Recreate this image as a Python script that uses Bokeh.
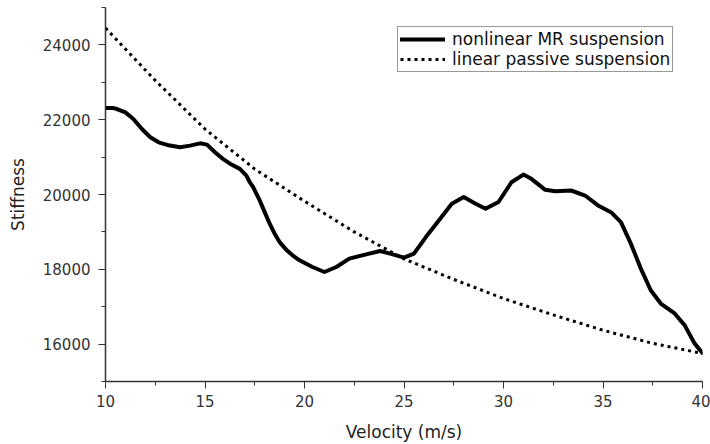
from bokeh.plotting import figure
from bokeh.models import SingleIntervalTicker, Range1d, Legend, LegendItem
from bokeh.embed import file_html
from bokeh.resources import INLINE

# nonlinear MR suspension (solid)
mr_velocity = [10, 10.4, 10.58, 11.0, 11.4, 11.83, 12.25, 12.67, 13.1, 13.75, 14.25, 14.75, 15.1,
               15.5, 15.9, 16.33, 16.75, 17.08, 17.25, 17.42, 17.75, 18.0, 18.25, 18.5, 18.75,
               19.08, 19.4, 19.75, 20.4, 21, 21.6, 22.25, 23.1, 23.8, 24.3, 25,
               25.5, 26.1, 26.75, 27.4, 28, 28.6, 29.1, 29.75, 30.4, 31, 31.4, 32.1,
               32.6, 33.4, 34.1, 34.75, 35.4, 35.9, 36.4, 36.9, 37.4, 37.9, 38.6, 39.1,
               39.6, 40]
mr_stiffness = [22310, 22310, 22285, 22195, 22020, 21752, 21530, 21395, 21325, 21262, 21307, 21368, 21333,
                21128, 20952, 20800, 20685, 20507, 20328, 20195, 19840, 19528, 19219, 18952, 18728,
                18525, 18373, 18240, 18062, 17928, 18062, 18285, 18400, 18488, 18418, 18312,
                18418, 18862, 19307, 19752, 19930, 19752, 19619, 19800, 20328, 20533, 20419, 20125,
                20088, 20107, 19973, 19707, 19528, 19261, 18685, 18019, 17440, 17085, 16819, 16507,
                16019, 15760]

# linear passive suspension (dotted)
lin_velocity = [10, 12.5, 15, 17.5, 20, 22.5, 25, 27.5, 30, 32.5, 35, 37.5, 40]
lin_stiffness = [24450, 23050, 21750, 20680, 19820, 19000, 18280, 17730, 17220, 16780, 16370, 16020, 15750]

x_label = "Velocity (m/s)"
y_label = "Stiffness"
series_names = ["nonlinear MR suspension", "linear passive suspension"]

FONT = "DejaVu Sans"

p = figure(width=710, height=444, output_backend="svg", toolbar_location=None,
           x_range=Range1d(10, 40), y_range=Range1d(15000, 25000),
           min_border_left=105, min_border_right=8, min_border_top=7, min_border_bottom=61)
p.outline_line_color = None
p.xgrid.visible = False
p.ygrid.visible = False
p.background_fill_color = "white"
p.border_fill_color = "white"

r1 = p.line(mr_velocity, mr_stiffness, line_color="black", line_width=4, line_join="round", line_cap="round")
r2 = p.line(lin_velocity, lin_stiffness, line_color="black", line_width=3, line_dash="3 4")

p.xaxis.ticker = SingleIntervalTicker(interval=5, num_minor_ticks=2)
p.yaxis.ticker = SingleIntervalTicker(interval=2000, num_minor_ticks=2)

for ax in (p.xaxis[0], p.yaxis[0]):
    ax.axis_line_color = "#333333"
    ax.axis_line_width = 1.5
    ax.major_tick_line_color = "#333333"
    ax.minor_tick_line_color = "#333333"
    ax.major_tick_out = 7
    ax.major_tick_in = 0
    ax.minor_tick_out = 4
    ax.minor_tick_in = 0
    ax.major_label_text_font = FONT
    ax.major_label_text_font_size = "15px"
    ax.major_label_text_color = "#333333"
    ax.axis_label_text_font = FONT
    ax.axis_label_text_font_size = "17px"
    ax.axis_label_text_font_style = "normal"
    ax.axis_label_text_color = "#222222"

p.xaxis.axis_label = x_label
p.yaxis.axis_label = y_label
p.xaxis.major_label_standoff = 6
p.yaxis.major_label_standoff = 8
p.xaxis.axis_label_standoff = 12
p.yaxis.axis_label_standoff = 12

legend = Legend(items=[LegendItem(label=series_names[0], renderers=[r1]),
                       LegendItem(label=series_names[1], renderers=[r2])],
                location=(292, 309))
legend.label_text_font = FONT
legend.label_text_font_size = "17px"
legend.label_text_color = "#111111"
legend.glyph_width = 45
legend.glyph_height = 16
legend.label_height = 16
legend.label_standoff = 7
legend.spacing = 0
legend.padding = 2
legend.margin = 0
legend.border_line_color = "#333333"
legend.border_line_width = 1
legend.background_fill_alpha = 1
p.add_layout(legend, "center")

open("out.html", "w").write(file_html(p, INLINE))
